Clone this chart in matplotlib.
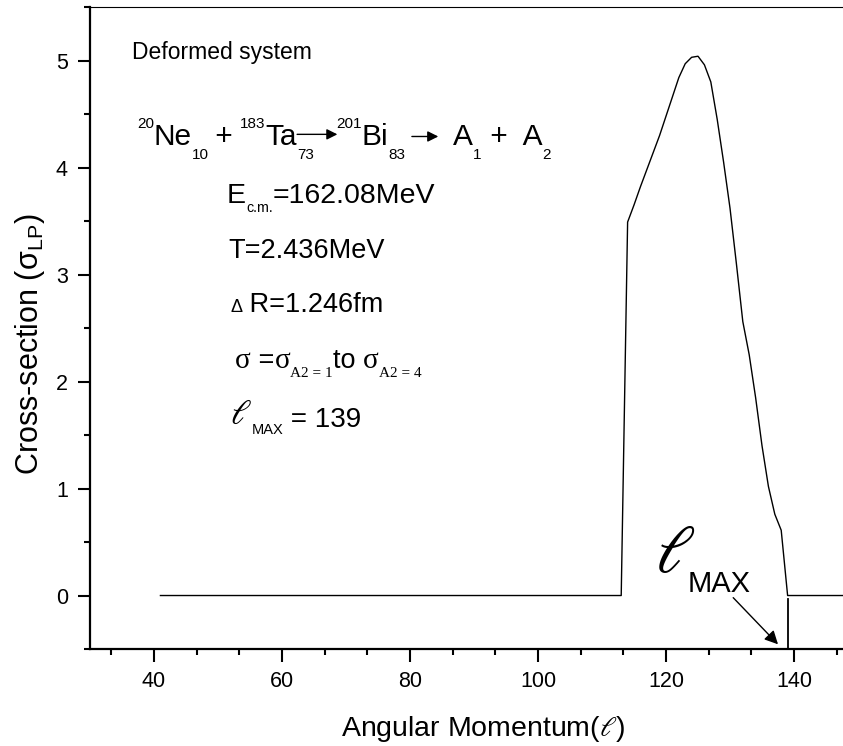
import numpy as np
import matplotlib
matplotlib.use("Agg")
import matplotlib.pyplot as plt
from matplotlib.ticker import MultipleLocator
from matplotlib.text import OffsetFrom

plt.rcParams['font.family'] = ['Liberation Sans', 'DejaVu Sans']
plt.rcParams['mathtext.fontset'] = 'custom'
plt.rcParams['mathtext.rm'] = 'Liberation Sans'
plt.rcParams['mathtext.it'] = 'Liberation Sans:italic'
plt.rcParams['mathtext.bf'] = 'Liberation Sans:bold'
plt.rcParams['mathtext.sf'] = 'Liberation Sans'

# angular momentum values and cross-section
ell = np.arange(41, 149)
ell_peak = np.arange(113, 140)
sigma_peak = [0.0, 3.49, 3.65, 3.82, 3.98, 4.14, 4.30, 4.48, 4.66, 4.84,
              4.97, 5.03, 5.04, 4.96, 4.80, 4.45, 4.05, 3.62, 3.10, 2.56,
              2.25, 1.85, 1.40, 1.02, 0.76, 0.61, 0.0]
sigma = np.zeros(len(ell))
sigma[(ell >= 113) & (ell <= 139)] = sigma_peak
ell_max = 139

fig = plt.figure(figsize=(8.43, 7.46), dpi=100)
ax = fig.add_axes([0.1068, 0.130, 0.911, 0.8606])

ax.plot(ell, sigma, color='black', lw=1.0)

ax.set_xlim(30, 150)
ax.set_ylim(-0.5, 5.5)
ax.xaxis.set_major_locator(MultipleLocator(20))
ax.xaxis.set_minor_locator(MultipleLocator(20 / 3))
ax.yaxis.set_major_locator(MultipleLocator(1))
ax.yaxis.set_minor_locator(MultipleLocator(0.5))
ax.tick_params(which='major', direction='out', length=9, width=1.5, labelsize=15.5, pad=7)
ax.tick_params(which='minor', direction='out', length=4.5, width=1.5)
ax.tick_params(top=False, right=False, which='both')
ax.spines['left'].set_linewidth(1.6)
ax.spines['bottom'].set_linewidth(1.6)
ax.spines['top'].set_linewidth(0.8)

ax.set_xlabel(r'Angular Momentum($\ell$)', fontsize=20.5, math_fontfamily='stix')
ax.xaxis.set_label_coords(0.512, -0.101)
ax.set_ylabel(r'Cross-section ($\mathrm{σ}_{\mathrm{LP}}$)', fontsize=22)
ax.yaxis.set_label_coords(-0.056, 0.474)


def chain(prev, s, size, y, dx=0, dy=0, **kw):
    # put a piece of text right after the previous one, on baseline y (data)
    return ax.annotate(s, xy=(1, y), xycoords=(prev, 'data'), xytext=(dx, dy),
                       textcoords='offset points', fontsize=size,
                       va='baseline', ha='left', **kw)


def arrow_after(prev, y, start, length):
    ref = OffsetFrom(prev, (1, 0))
    return ax.annotate('', xy=(start + length, y), xycoords=(ref, 'data'),
                       xytext=(start, y), textcoords=(ref, 'data'),
                       arrowprops=dict(arrowstyle='-|>', color='black', lw=1.0,
                                       mutation_scale=16, shrinkA=0, shrinkB=0))


ax.text(36.6, 5.01, 'Deformed system', fontsize=16.5, va='baseline')

# reaction line
y0 = 4.21
big, small, up, down = 21.5, 11, 12.5, -10
t = ax.annotate('20', xy=(37.3, y0), xytext=(0, up), textcoords='offset points',
                fontsize=small, va='baseline')
t = chain(t, 'Ne', big, y0)
t = chain(t, '10', small, y0, dy=down)
t = chain(t, ' + ', big, y0, dx=-1)
t = chain(t, '183', small, y0, dx=-1, dy=up)
ta = chain(t, 'Ta', big, y0)
t = chain(ta, '73', small, y0, dy=down)
t = arrow_after(ta, y0 + 0.10, 0, 29)
t = chain(t, '201', small, y0, dy=up)
t = chain(t, 'Bi', big, y0)
t = chain(t, '83', small, y0, dy=down)
t = arrow_after(t, y0 + 0.08, 5, 19)
t = chain(t, 'A', big, y0, dx=12)
t = chain(t, '1', small, y0, dy=down)
t = chain(t, ' +  A', big, y0)
t = chain(t, '2', small, y0, dy=down)

# energy, temperature, neck length
t = ax.text(51.4, 3.665, 'E', fontsize=20.5, va='baseline')
t = chain(t, 'c.m.', 10.3, 3.665, dy=-6)
t = chain(t, '=162.08MeV', 20.5, 3.665)
ax.text(51.6, 3.155, 'T=2.436MeV', fontsize=19.5, va='baseline')
t = ax.text(51.9, 2.65, 'Δ', fontsize=13, va='baseline')
chain(t, ' R=1.246fm', 19.5, 2.65)

# sigma range line
ys = 2.13
t = ax.text(52.7, ys, 'σ', fontsize=21, va='baseline', family='Liberation Serif')
t = chain(t, ' =', 19.5, ys)
t = chain(t, 'σ', 21, ys, family='Liberation Serif')
t = chain(t, 'A2 = 1', 11, ys, dy=-7, family='Liberation Serif')
t = chain(t, 'to ', 19.5, ys)
t = chain(t, 'σ', 21, ys, family='Liberation Serif')
t = chain(t, 'A2 = 4', 11, ys, dy=-7, family='Liberation Serif')

# l_max line
yl = 1.572
t = ax.text(51.8, yl + 0.03, r'$\ell$', fontsize=25, va='baseline', math_fontfamily='stix')
t = chain(t, 'MAX', 10.5, yl, dy=-4.5)
chain(t, ' = 139', 20, yl)

# l_max marker on the axis
ax.text(118.3, 0.223, r'$\ell$', fontsize=48, va='baseline', math_fontfamily='stix')
ax.text(123.3, 0.037, 'MAX', fontsize=21, va='baseline')
ax.annotate('', xy=(137.5, -0.456), xytext=(130.5, -0.02),
            arrowprops=dict(arrowstyle='-|>', color='black', lw=1.0,
                            mutation_scale=20, shrinkA=0, shrinkB=0))
ax.plot([ell_max, ell_max], [-0.03, -0.5], color='black', lw=1.3)

fig.savefig('out.png', dpi=100)
